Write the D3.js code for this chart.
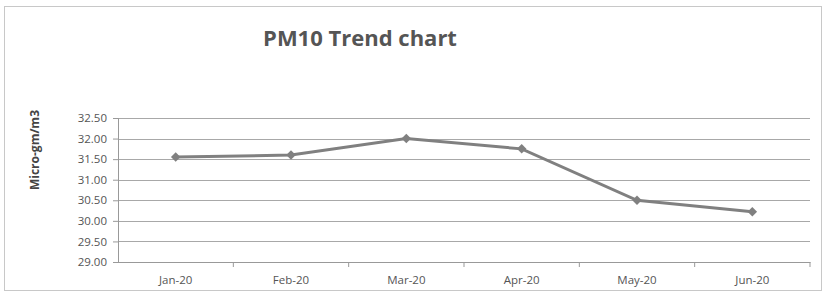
<!DOCTYPE html>
<html>
<head>
<meta charset="utf-8">
<script src="https://cdnjs.cloudflare.com/ajax/libs/d3/7.8.5/d3.min.js"></script>
<style>
  body { margin: 0; background: #fff; }
  text { font-family: "Open Sans", "Noto Sans", sans-serif; }
</style>
</head>
<body>
<div class="canvas"></div>
<script>
// chart data
var months = ['Jan-20', 'Feb-20', 'Mar-20', 'Apr-20', 'May-20', 'Jun-20'];
var pm10 = [31.55, 31.6, 32.0, 31.75, 30.5, 30.22];
var yTicks = [29.0, 29.5, 30.0, 30.5, 31.0, 31.5, 32.0, 32.5];

var pageWidth = 825, pageHeight = 296;
var margins = {t:118, r:15, b:34, l:118};
var plotWidth = pageWidth - margins.l - margins.r,
    plotHeight = pageHeight - margins.t - margins.b;

var svg = d3.select('.canvas')
    .append('svg')
    .attr('width', pageWidth)
    .attr('height', pageHeight);

// outer frame
svg.append('rect')
    .attr('x', 4.5).attr('y', 6.5)
    .attr('width', 817).attr('height', 284)
    .style('fill', 'none')
    .style('stroke', '#c8c8c8');

svg.append('text')
    .attr('x', 360).attr('y', 46)
    .attr('text-anchor', 'middle')
    .style('font-size', '22px')
    .style('font-weight', 'bold')
    .style('fill', '#555')
    .text('PM10 Trend chart');

svg.append('text')
    .attr('transform', 'translate(39,150) rotate(-90)')
    .attr('text-anchor', 'middle')
    .style('font-size', '12px')
    .style('font-weight', 'bold')
    .style('fill', '#444')
    .text('Micro-gm/m3');

var x = d3.scaleBand().domain(months).range([0, plotWidth]);
var y = d3.scaleLinear().domain([29, 32.5]).range([plotHeight, 0]);

var plot = svg.append('g')
    .attr('transform', 'translate(' + margins.l + ',' + margins.t + ')');

// horizontal gridlines
plot.selectAll('.grid')
    .data(yTicks)
    .enter()
    .append('line')
    .attr('class', 'grid')
    .attr('x1', 0).attr('x2', plotWidth)
    .attr('y1', function(d){ return Math.round(y(d)) + 0.5; })
    .attr('y2', function(d){ return Math.round(y(d)) + 0.5; })
    .style('stroke', '#a8a8a8');

var yAxis = plot.append('g')
    .call(d3.axisLeft(y).tickValues(yTicks).tickFormat(d3.format('.2f')).tickSize(5).tickPadding(6));
yAxis.select('.domain').style('stroke', '#999');
yAxis.selectAll('line').style('stroke', '#999');
yAxis.selectAll('text').style('font-size', '11.5px').style('fill', '#555')
    .style('font-family', '"Open Sans", sans-serif');

// x axis: ticks at category boundaries
var xAxis = plot.append('g')
    .attr('transform', 'translate(0,' + plotHeight + ')')
    .call(d3.axisBottom(x).tickSize(0).tickPadding(14));
xAxis.select('.domain').style('stroke', '#999');
xAxis.selectAll('text').style('font-size', '11.5px').style('fill', '#555')
    .style('font-family', '"Open Sans", sans-serif');

plot.selectAll('.xtick')
    .data(months)
    .enter()
    .append('line')
    .attr('class', 'xtick')
    .attr('x1', function(d){ return x(d) + x.bandwidth(); })
    .attr('x2', function(d){ return x(d) + x.bandwidth(); })
    .attr('y1', plotHeight).attr('y2', plotHeight + 5)
    .style('stroke', '#999');

var line = d3.line()
    .x(function(d, i){ return x(months[i]) + x.bandwidth() / 2; })
    .y(function(d){ return y(d); });

plot.append('path')
    .datum(pm10)
    .attr('d', line)
    .style('fill', 'none')
    .style('stroke', '#808080')
    .style('stroke-width', 3);

// diamond markers (square turned 45 degrees)
plot.selectAll('.data-point')
    .data(pm10)
    .enter()
    .append('path')
    .attr('class', 'data-point')
    .attr('d', d3.symbol().type(d3.symbolSquare).size(45))
    .attr('transform', function(d, i){
        return 'translate(' + (x(months[i]) + x.bandwidth() / 2) + ',' + y(d) + ') rotate(45)';
    })
    .style('fill', '#808080');
</script>
</body>
</html>
